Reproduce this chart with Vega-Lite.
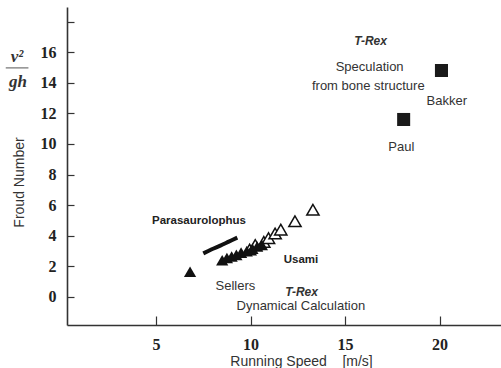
{
  "$schema": "https://vega.github.io/schema/vega-lite/v6.json",
  "width": 434,
  "height": 318,
  "autosize": "none",
  "padding": {"left": 67, "top": 7, "right": 0, "bottom": 43},
  "background": "white",
  "config": {
    "view": {"stroke": null},
    "axis": {"grid": false, "domainColor": "#333", "domainWidth": 1.6, "tickColor": "#333", "tickWidth": 1.2, "labelFont": "Liberation Serif", "labelFontWeight": "bold", "labelFontSize": 16, "labelColor": "#222", "titleFont": "Liberation Sans", "titleFontWeight": "normal", "titleFontSize": 14, "titleColor": "#333"}
  },
  "datasets": {
    "sellers": [{"speed": 6.8, "froude": 1.65}],
    "usami_filled": [
      {"speed": 8.5, "froude": 2.4},
      {"speed": 8.75, "froude": 2.55},
      {"speed": 9.0, "froude": 2.65},
      {"speed": 9.25, "froude": 2.75},
      {"speed": 9.5, "froude": 2.9},
      {"speed": 9.8, "froude": 3.0},
      {"speed": 10.1, "froude": 3.15},
      {"speed": 10.35, "froude": 3.3},
      {"speed": 10.6, "froude": 3.4}
    ],
    "usami_open": [
      {"speed": 9.95, "froude": 3.1},
      {"speed": 10.25, "froude": 3.4},
      {"speed": 10.7, "froude": 3.6},
      {"speed": 10.95, "froude": 3.85},
      {"speed": 11.3, "froude": 4.15},
      {"speed": 11.6, "froude": 4.4},
      {"speed": 12.35, "froude": 4.95},
      {"speed": 13.3, "froude": 5.7}
    ],
    "trex": [
      {"speed": 20.1, "froude": 14.8, "who": "Bakker"},
      {"speed": 18.1, "froude": 11.6, "who": "Paul"}
    ],
    "para": [
      {"speed": 7.5, "froude": 2.85},
      {"speed": 7.95, "froude": 3.12},
      {"speed": 8.4, "froude": 3.36},
      {"speed": 8.85, "froude": 3.62},
      {"speed": 9.3, "froude": 3.88}
    ],
    "bold_labels": [
      {"speed": 7.27, "froude": 4.97, "text": "Parasaurolophus"},
      {"speed": 12.67, "froude": 2.4, "text": "Usami"}
    ],
    "italic_labels": [
      {"speed": 12.7, "froude": 0.3, "text": "T-Rex"},
      {"speed": 16.35, "froude": 16.75, "text": "T-Rex"}
    ],
    "plain_labels": [
      {"speed": 9.2, "froude": 0.72, "text": "Sellers"},
      {"speed": 12.66, "froude": -0.59, "text": "Dynamical Calculation"},
      {"speed": 16.3, "froude": 15.05, "text": "Speculation"},
      {"speed": 16.23, "froude": 13.8, "text": "from bone structure"},
      {"speed": 20.38, "froude": 12.8, "text": "Bakker"},
      {"speed": 17.98, "froude": 9.82, "text": "Paul"}
    ],
    "fraction_text": [
      {"speed": -2.35, "froude": 15.7, "text": "v²"},
      {"speed": -2.3, "froude": 14.05, "text": "gh"}
    ],
    "fraction_bar": [
      {"speed": -2.95, "speed2": -1.75, "froude": 14.97}
    ]
  },
  "encoding": {
    "x": {"field": "speed", "type": "quantitative", "scale": {"domain": [0.29, 23.25], "nice": false, "zero": false},
      "axis": {"values": [5, 10, 15, 20], "tickSize": -9, "labelPadding": 20, "title": "Running Speed\u00a0\u00a0\u00a0\u00a0[m/s]", "titleX": 234, "titleY": 36, "titleBaseline": "middle"}},
    "y": {"field": "froude", "type": "quantitative", "scale": {"domain": [-1.83, 18.95], "nice": false, "zero": false},
      "axis": {"values": [0, 2, 4, 6, 8, 10, 12, 14, 16, 18], "labelExpr": "datum.value == 18 ? '' : datum.label", "tickSize": -7, "labelPadding": 18, "title": "Froud Number", "titleX": -48, "titleY": 175, "titleAngle": -90, "titleAlign": "center", "titleBaseline": "middle"}}
  },
  "layer": [
    {
      "mark": {"type": "rule", "color": "#333", "strokeWidth": 1.6},
      "encoding": {"x": null, "y": {"datum": 18.95}}
    },
    {
      "data": {"name": "para"},
      "mark": {"type": "line", "color": "#111", "strokeWidth": 4, "interpolate": "monotone"},
      "encoding": {}
    },
    {
      "data": {"name": "usami_open"},
      "mark": {"type": "point", "shape": "triangle-up", "filled": true, "fill": "white", "stroke": "#111", "strokeWidth": 1.5, "size": 150, "opacity": 1},
      "encoding": {}
    },
    {
      "data": {"name": "usami_filled"},
      "mark": {"type": "point", "shape": "triangle-up", "filled": true, "color": "#111", "size": 150, "opacity": 1},
      "encoding": {}
    },
    {
      "data": {"name": "sellers"},
      "mark": {"type": "point", "shape": "triangle-up", "filled": true, "color": "#111", "size": 150, "opacity": 1},
      "encoding": {}
    },
    {
      "data": {"name": "trex"},
      "mark": {"type": "point", "shape": "square", "filled": true, "color": "#1a1a1a", "size": 170, "opacity": 1},
      "encoding": {}
    },
    {
      "data": {"name": "bold_labels"},
      "mark": {"type": "text", "font": "Liberation Sans", "fontWeight": "bold", "fontSize": 11.5, "color": "#222", "baseline": "middle"},
      "encoding": {"text": {"field": "text"}}
    },
    {
      "data": {"name": "italic_labels"},
      "mark": {"type": "text", "font": "Liberation Sans", "fontWeight": "bold", "fontStyle": "italic", "fontSize": 12, "color": "#333", "baseline": "middle"},
      "encoding": {"text": {"field": "text"}}
    },
    {
      "data": {"name": "plain_labels"},
      "mark": {"type": "text", "font": "Liberation Sans", "fontSize": 13, "color": "#333", "baseline": "middle"},
      "encoding": {"text": {"field": "text"}}
    },
    {
      "data": {"name": "fraction_text"},
      "mark": {"type": "text", "font": "Liberation Serif", "fontWeight": "bold", "fontStyle": "italic", "fontSize": 17, "color": "#333", "baseline": "middle"},
      "encoding": {"text": {"field": "text"}}
    },
    {
      "data": {"name": "fraction_bar"},
      "mark": {"type": "rule", "color": "#555", "strokeWidth": 1},
      "encoding": {"x2": {"field": "speed2"}}
    }
  ]
}
